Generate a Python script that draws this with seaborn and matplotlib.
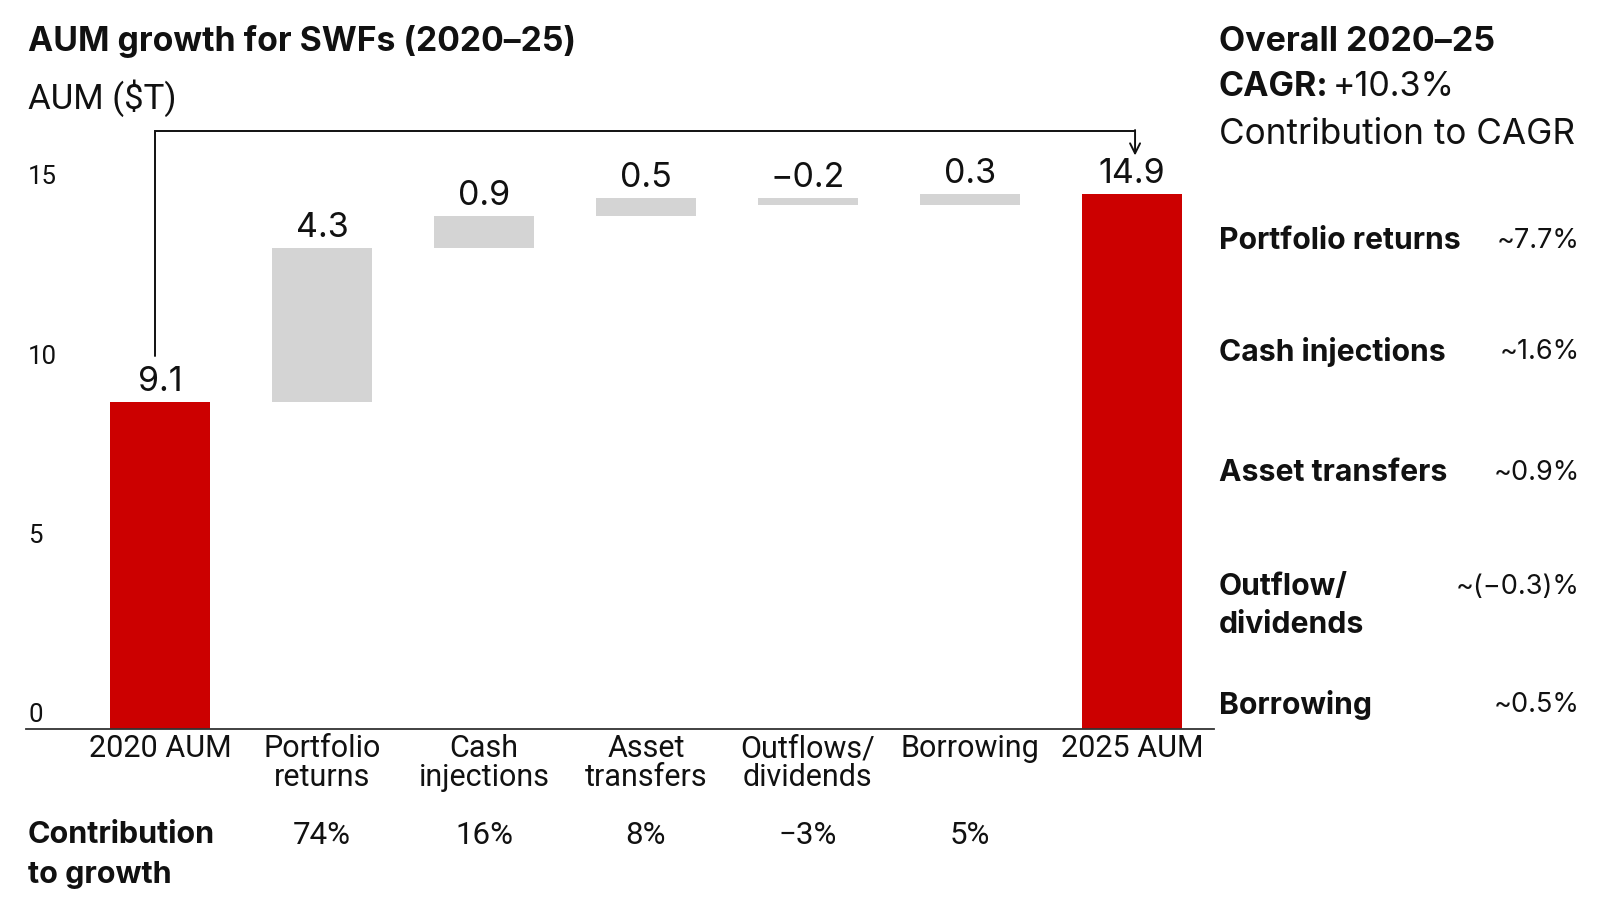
import numpy as np
import matplotlib
matplotlib.use("Agg")
import matplotlib.pyplot as plt
import matplotlib.transforms as mtransforms
import seaborn as sns

# Data
categories = ['2020 AUM', 'Portfolio\nreturns', 'Cash\ninjections', 'Asset\ntransfers',
              'Outflows/\ndividends', 'Borrowing', '2025 AUM']
values = [9.1, 4.3, 0.9, 0.5, -0.2, 0.3, 14.9]
value_labels = ['9.1', '4.3', '0.9', '0.5', '\u22120.2', '0.3', '14.9']
is_total = [True, False, False, False, False, False, True]
contribution = ['', '74%', '16%', '8%', '\u22123%', '5%', '']
cagr_labels = ['Portfolio returns', 'Cash injections', 'Asset transfers', 'Outflow/\ndividends', 'Borrowing']
cagr_values = ['~7.7%', '~1.6%', '~0.9%', '~(\u22120.3)%', '~0.5%']
y_ticks = [0, 5, 10, 15]

RED = '#cc0000'
GREY = '#d4d4d4'
INK = '#111111'
FONT = 'Inter'
COND = 'Roboto'

# Waterfall geometry from the values
bottoms, heights = [], []
level = 0.0
for v, tot in zip(values, is_total):
    if tot:
        bottoms.append(0.0)
        heights.append(v)
        level = v
    else:
        bottoms.append(level)
        heights.append(v)
        level += v

sns.set_theme(style='white')
plt.rcParams['font.family'] = [FONT, 'DejaVu Sans']

fig = plt.figure(figsize=(16.07, 9.19), dpi=100)
ax = fig.add_axes([0.016, 0.2071, 0.7397, 0.6635])

sns.barplot(x=categories, y=heights, bottom=bottoms, color=GREY, width=0.62,
            saturation=1, ax=ax, linewidth=0)
for patch, tot in zip(ax.patches, is_total):
    if tot:
        patch.set_facecolor(RED)
        patch.set_edgecolor(RED)

ax.set_xlim(-0.83, 6.51)
ax.set_ylim(0, 17)
for s in ['top', 'right', 'left']:
    ax.spines[s].set_visible(False)
ax.spines['bottom'].set_color('#333333')
ax.spines['bottom'].set_linewidth(1.3)
ax.set_yticks([])
ax.set_xlabel('')
ax.set_ylabel('')
ax.tick_params(axis='x', length=0, pad=4)
ax.set_xticks(range(len(categories)))
ax.set_xticklabels(categories, fontsize=22, family=COND, color=INK, linespacing=1.0)

# y tick labels sit just above their value, inside the axes
blend = mtransforms.blended_transform_factory(ax.transAxes, ax.transData)
for t in y_ticks:
    ax.text(0.002, t, str(t), transform=blend + mtransforms.ScaledTranslation(0, 1 / 72, fig.dpi_scale_trans),
            ha='left', va='bottom', fontsize=18.5, family=COND, color=INK)

# value labels above each bar
for i, (b, h, lab) in enumerate(zip(bottoms, heights, value_labels)):
    top = max(b, b + h)
    ax.annotate(lab, xy=(i, top), xytext=(0, 3), textcoords='offset points',
                ha='center', va='bottom', fontsize=24.5, color=INK)

# bracket arrow from 2020 to 2025
ax.plot([-0.03, -0.03, 6.02], [10.4, 16.65, 16.65], color=INK, lw=1.4,
        clip_on=False, solid_joinstyle='miter')
ax.annotate('', xy=(6.02, 15.98), xytext=(6.02, 16.69),
            arrowprops=dict(arrowstyle='->', color=INK, lw=1.4,
                            shrinkA=0, shrinkB=0, mutation_scale=18),
            annotation_clip=False)

# titles
fig.text(0.0172, 1 - 42 / 919, 'AUM growth for SWFs (2020\u201325)', fontsize=24.3,
         fontweight='bold', ha='left', va='center', color=INK)
fig.text(0.0172, 1 - 98 / 919, 'AUM ($T)', fontsize=25, family=COND,
         ha='left', va='center', color=INK)

# contribution to growth row
rowtr = mtransforms.blended_transform_factory(ax.transData, fig.transFigure)
fig.text(0.0172, 1 - 835 / 919, 'Contribution', fontsize=22, fontweight='bold',
         ha='left', va='center', color=INK)
fig.text(0.0172, 1 - 875 / 919, 'to growth', fontsize=22, fontweight='bold',
         ha='left', va='center', color=INK)
for i, c in enumerate(contribution):
    if c:
        ax.text(i, 1 - 835 / 919, c, transform=rowtr, ha='center', va='center',
                fontsize=22.5, family=COND, color=INK)

# right panel
px = 1219 / 1607
rx = 1580 / 1607
fig.text(px, 1 - 42 / 919, 'Overall 2020\u201325', fontsize=24.5, fontweight='bold',
         ha='left', va='center', color=INK)
cagr = fig.text(px, 1 - 87 / 919, 'CAGR:', fontsize=24.5, fontweight='bold',
                ha='left', va='center', color=INK)
ax.annotate('+10.3%', xy=(1, 0.5), xycoords=cagr, xytext=(3, 0), textcoords='offset points',
            ha='left', va='center', fontsize=24.5, color=INK, annotation_clip=False)
fig.text(px, 1 - 134 / 919, 'Contribution to CAGR', fontsize=25.3, ha='left', va='center',
         color=INK)

row_y = [241, 352, 473, 587, 705]
for lab, val, y in zip(cagr_labels, cagr_values, row_y):
    for j, line in enumerate(lab.split('\n')):
        fig.text(px, 1 - (y + j * 38) / 919, line, fontsize=21.7, fontweight='bold',
                 ha='left', va='center', color=INK)
    fig.text(rx, 1 - y / 919, val, fontsize=19.5, ha='right', va='center', color=INK)

fig.savefig('out.png', dpi=100, facecolor='white')
